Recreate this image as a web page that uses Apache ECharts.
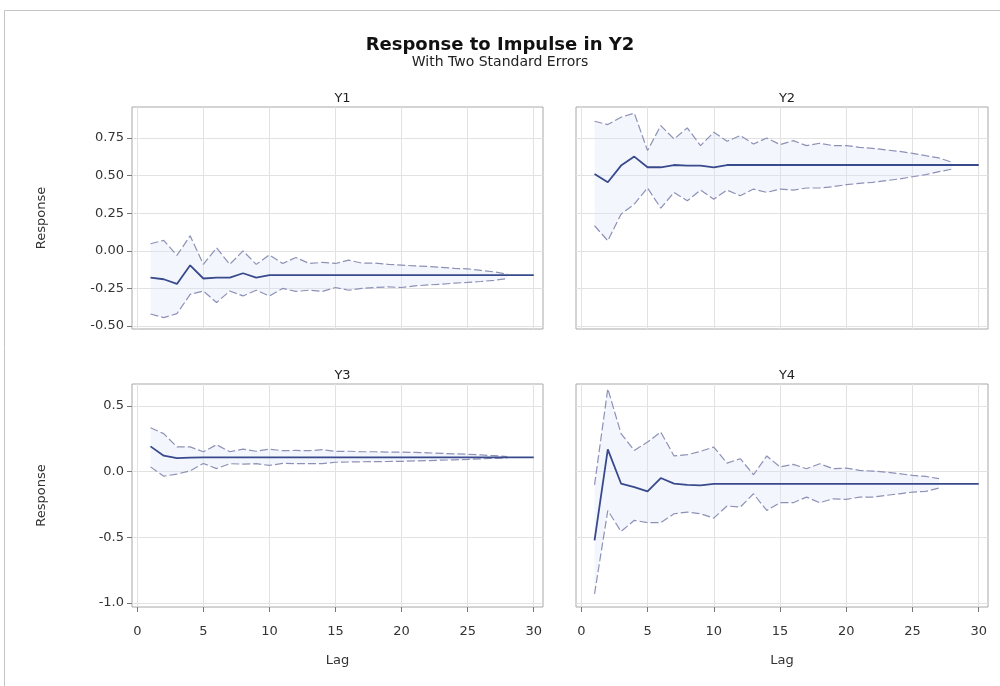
<!DOCTYPE html>
<html><head><meta charset="utf-8">
<script src="https://cdn.jsdelivr.net/npm/echarts@6/dist/echarts.min.js"></script>
<style>html,body{margin:0;padding:0;background:#fff}#c{width:1000px;height:686px}</style>
</head><body><div id="c"></div>
<script>
const lags = [1,2,3,4,5,6,7,8,9,10,11,12,13,14,15,16,17,18,19,20,21,22,23,24,25,26,27,28,29,30];
const xTicks = [0,5,10,15,20,25,30];
const yTicksTop = [-0.5,-0.25,0,0.25,0.5,0.75];
const yTicksBottom = [-1.0,-0.5,0.0,0.5];
const panelTitles = ['Y1','Y2','Y3','Y4'];
const mainTitle = 'Response to Impulse in Y2';
const subTitle = 'With Two Standard Errors';

const y1Response = [-0.178,-0.189,-0.22,-0.096,-0.184,-0.178,-0.178,-0.149,-0.178,-0.162,-0.162,-0.162,-0.162,-0.162,-0.162,-0.162,-0.162,-0.162,-0.162,-0.162,-0.162,-0.162,-0.162,-0.162,-0.162,-0.162,-0.162,-0.162,-0.162,-0.162];
const y1Upper = [0.047,0.07,-0.03,0.1,-0.09,0.02,-0.09,0.0,-0.09,-0.027,-0.084,-0.044,-0.084,-0.077,-0.084,-0.062,-0.082,-0.082,-0.09,-0.095,-0.1,-0.104,-0.11,-0.116,-0.12,-0.13,-0.14,-0.155,null,null];
const y1Lower = [-0.42,-0.444,-0.418,-0.29,-0.267,-0.344,-0.267,-0.3,-0.262,-0.3,-0.25,-0.27,-0.262,-0.27,-0.244,-0.262,-0.25,-0.244,-0.24,-0.244,-0.233,-0.227,-0.222,-0.215,-0.21,-0.204,-0.196,-0.185,null,null];

const y2Response = [0.511,0.456,0.567,0.627,0.556,0.556,0.571,0.567,0.567,0.556,0.571,0.571,0.571,0.571,0.571,0.571,0.571,0.571,0.571,0.571,0.571,0.571,0.571,0.571,0.571,0.571,0.571,0.571,0.571,0.571];
const y2Upper = [0.862,0.84,0.889,0.916,0.667,0.833,0.744,0.818,0.7,0.789,0.729,0.767,0.711,0.751,0.707,0.733,0.7,0.716,0.7,0.7,0.689,0.682,0.671,0.662,0.649,0.633,0.618,0.589,null,null];
const y2Lower = [0.167,0.067,0.244,0.311,0.418,0.284,0.389,0.333,0.404,0.344,0.404,0.367,0.411,0.389,0.411,0.404,0.418,0.418,0.427,0.44,0.449,0.456,0.467,0.478,0.493,0.507,0.527,0.544,null,null];

const y3Response = [0.193,0.122,0.103,0.107,0.11,0.11,0.11,0.11,0.11,0.11,0.11,0.11,0.11,0.11,0.11,0.11,0.11,0.11,0.11,0.11,0.11,0.11,0.11,0.11,0.11,0.11,0.11,0.11,0.11,0.11];
const y3Upper = [0.335,0.29,0.189,0.189,0.152,0.206,0.152,0.172,0.156,0.172,0.16,0.162,0.16,0.168,0.155,0.156,0.152,0.152,0.15,0.15,0.147,0.144,0.14,0.136,0.133,0.128,0.122,0.116,null,null];
const y3Lower = [0.037,-0.034,-0.018,0.007,0.063,0.024,0.061,0.058,0.061,0.048,0.064,0.061,0.061,0.062,0.072,0.074,0.076,0.077,0.078,0.079,0.082,0.085,0.088,0.091,0.094,0.098,0.102,0.105,null,null];

const y4Response = [-0.523,0.17,-0.09,-0.117,-0.15,-0.048,-0.09,-0.1,-0.104,-0.092,-0.092,-0.092,-0.092,-0.092,-0.092,-0.092,-0.092,-0.092,-0.092,-0.092,-0.092,-0.092,-0.092,-0.092,-0.092,-0.092,-0.092,-0.092,-0.092,-0.092];
const y4Upper = [-0.1,0.632,0.29,0.162,0.226,0.302,0.12,0.13,0.155,0.188,0.066,0.099,-0.023,0.12,0.036,0.056,0.023,0.061,0.023,0.028,0.01,0.005,-0.003,-0.015,-0.028,-0.036,-0.053,null,null,null];
const y4Lower = [-0.93,-0.295,-0.455,-0.37,-0.388,-0.388,-0.32,-0.307,-0.32,-0.353,-0.261,-0.269,-0.168,-0.295,-0.236,-0.236,-0.193,-0.236,-0.206,-0.211,-0.193,-0.193,-0.18,-0.168,-0.155,-0.15,-0.124,null,null,null];

const panels = [
  {resp:y1Response, up:y1Upper, lo:y1Lower},
  {resp:y2Response, up:y2Upper, lo:y2Lower},
  {resp:y3Response, up:y3Upper, lo:y3Lower},
  {resp:y4Response, up:y4Upper, lo:y4Lower}
];

const FONT = '"DejaVu Sans", Verdana, sans-serif';
const grids = [
  {left:132, top:107, width:411, height:222},
  {left:576, top:107, width:412, height:222},
  {left:132, top:384, width:411, height:223},
  {left:576, top:384, width:412, height:223}
].map(g => Object.assign(g, {show:true, borderColor:'#a8a8a8', borderWidth:1, backgroundColor:'#fff', containLabel:false}));

const respColor = '#394a8c';
const boundColor = '#8d91b6';
const bandColor = 'rgba(215,226,250,0.3)';

const xAxes = [], yAxes = [], series = [], titles = [];
const yRanges = [[-0.52,0.957],[-0.52,0.957],[-1.03,0.668],[-1.03,0.668]];
panels.forEach((p, i) => {
  const bottom = i >= 2, left = (i % 2 === 0);
  xAxes.push({
    type:'value', gridIndex:i, min:-0.4, max:30.7,
    axisLine:{show:false, onZero:false},
    axisTick:{show:bottom, customValues:xTicks, length:5, lineStyle:{color:'#777'}},
    axisLabel:{show:bottom, customValues:xTicks, margin:18, color:'#333', fontFamily:FONT, fontSize:13},
    splitLine:{show:true, lineStyle:{color:'#e2e2e2', width:1}},
    name: bottom ? 'Lag' : '', nameLocation:'middle', nameGap:47,
    nameTextStyle:{color:'#333', fontFamily:FONT, fontSize:13}
  });
  const yt = bottom ? yTicksBottom : yTicksTop;
  const dec = bottom ? 1 : 2;
  yAxes.push({
    type:'value', gridIndex:i, min:yRanges[i][0], max:yRanges[i][1],
    axisLine:{show:false, onZero:false},
    axisTick:{show:left, customValues:yt, length:5, lineStyle:{color:'#777'}},
    axisLabel:{show:left, customValues:yt, margin:8, color:'#333', fontFamily:FONT, fontSize:13,
      formatter: v => Number(v).toFixed(dec)},
    splitLine:{show:true, lineStyle:{color:'#e2e2e2', width:1}},
    name: left ? 'Response' : '', nameLocation:'middle', nameGap:84,
    nameTextStyle:{color:'#333', fontFamily:FONT, fontSize:13}
  });
  const g = grids[i];
  titles.push({text:panelTitles[i], left:g.left + g.width/2, top:g.top - 20, textAlign:'center',
    textStyle:{fontFamily:FONT, fontSize:13, fontWeight:'normal', color:'#222'}});
  const pair = arr => lags.map((l, k) => [l, arr[k]]);
  const common = {xAxisIndex:i, yAxisIndex:i, symbol:'none', silent:true, animation:false};
  series.push(Object.assign({}, common, {
    type:'custom', name:'band'+i, z:1, clip:true,
    data: pair(p.resp),
    renderItem: (params, api) => {
      if (params.dataIndex !== 0) return null;
      const pts = [];
      lags.forEach((l, k) => { if (p.up[k] != null) pts.push(api.coord([l, p.up[k]])); });
      for (let k = lags.length - 1; k >= 0; k--) { if (p.lo[k] != null) pts.push(api.coord([lags[k], p.lo[k]])); }
      return {type:'polygon', shape:{points:pts}, style:{fill:bandColor}};
    }
  }));
  series.push(Object.assign({}, common, {type:'line', name:'upper'+i, data:pair(p.up), lineStyle:{color:boundColor, width:1.2, type:[8,3]}, z:3}));
  series.push(Object.assign({}, common, {type:'line', name:'lower'+i, data:pair(p.lo), lineStyle:{color:boundColor, width:1.2, type:[8,3]}, z:3}));
  series.push(Object.assign({}, common, {type:'line', name:'resp'+i, data:pair(p.resp), lineStyle:{color:respColor, width:1.8}, z:4}));
});

titles.unshift({text:mainTitle, subtext:subTitle, left:'center', top:31, itemGap:1,
  textStyle:{fontFamily:FONT, fontSize:18, fontWeight:'bold', color:'#111'},
  subtextStyle:{fontFamily:FONT, fontSize:14, color:'#222'}});

const chart = echarts.init(document.getElementById('c'), null, {renderer:'canvas'});
chart.setOption({
  backgroundColor:'#fff',
  animation:false,
  title:titles,
  grid:grids,
  xAxis:xAxes,
  yAxis:yAxes,
  series:series,
  graphic:[{type:'rect', shape:{x:4.5, y:10.5, width:1100, height:1000}, style:{fill:'none', stroke:'#c4c4c4', lineWidth:1}, silent:true, z:-10}]
});
</script></body></html>
